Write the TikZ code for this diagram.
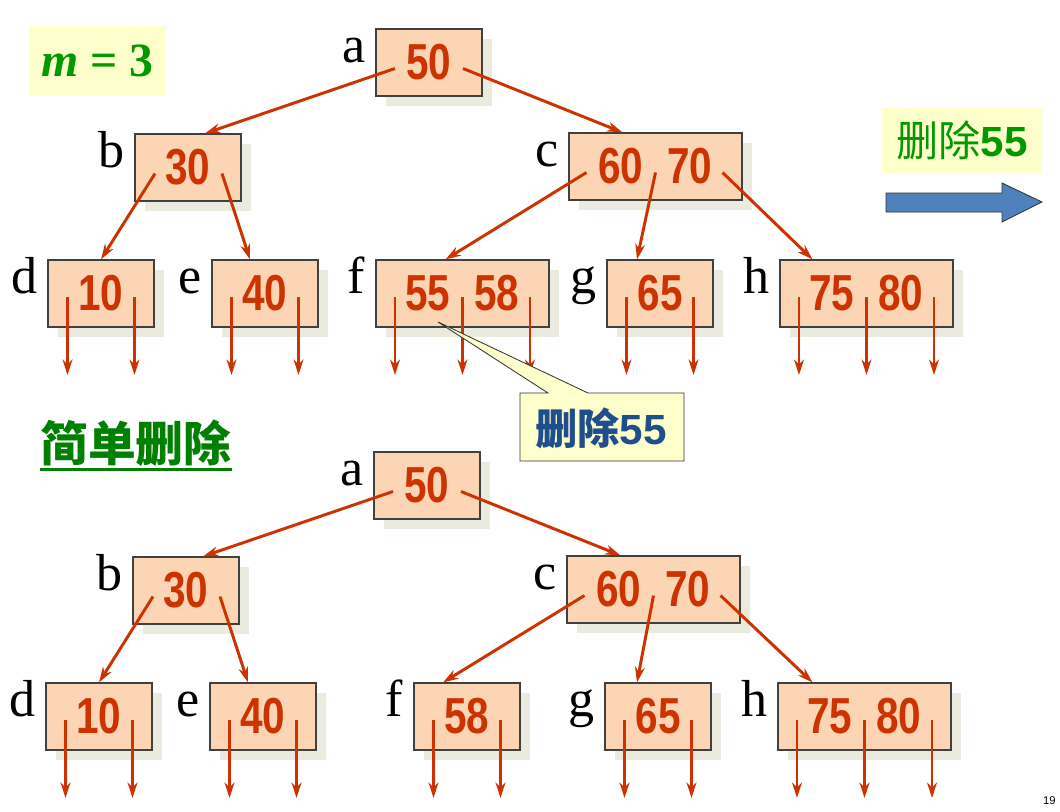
\documentclass[tikz,border=0pt]{standalone}
\usepackage{fontspec}
\setmainfont{Liberation Serif}
\newfontfamily\numfont[FakeStretch=0.8]{Liberation Sans}
\newfontfamily\sansfont{Liberation Sans}
\newfontfamily\cjkfont{Noto Sans CJK SC}
\usepackage{tikz}
\usetikzlibrary{arrows.meta, calc, shadows}

\definecolor{keyfill}{HTML}{FCD5B5}
\definecolor{keyline}{HTML}{404040}
\definecolor{keyshade}{HTML}{EAEADF}
\definecolor{ptrred}{HTML}{CC3300}
\definecolor{notefill}{HTML}{FFFFCC}
\definecolor{notegreen}{HTML}{009900}
\definecolor{simplegreen}{HTML}{008000}
\definecolor{noteblue}{HTML}{1F4E8C}
\definecolor{arrowblue}{HTML}{4F81BD}

\newcommand\keysep{\hspace{0.6cm}}

\tikzset{
  key/.style={draw=keyline, fill=keyfill, line width=0.8pt, minimum height=1.675cm, inner sep=0pt,
    text=ptrred, font=\numfont\bfseries\fontsize{36pt}{36pt}\selectfont,
    drop shadow={shadow xshift=0.25cm, shadow yshift=-0.25cm, fill=keyshade, opacity=1}},
  one/.style={key, minimum width=2.65cm},
  two/.style={key, minimum width=4.325cm},
  ptr/.style={draw=ptrred, line width=2.1pt, -{Stealth[length=11pt, width=7pt]}},
  lbl/.style={font=\fontsize{37pt}{37pt}\selectfont, inner sep=0pt, anchor=base east, xshift=-0.25cm},
  note/.style={fill=notefill, inner sep=0pt}
}

\begin{document}
\begin{tikzpicture}[x=0.025cm, y=-0.025cm]
    \useasboundingbox (0,0) rectangle (1060,811);

    % m = 3
    \node[note, minimum width=3.425cm, minimum height=1.75cm] (m) at (97.5,61)
        {\color{notegreen}\bfseries\fontsize{34pt}{34pt}\selectfont\textit{m} = 3};

    % upper tree
    \node[one] (ta) at (429,62.5) {50};
    \node[one] (tb) at (188,167.5) {30};
    \node[two] (tc) at (655.5,166.5) {60\keysep 70};
    \node[one] (td) at (101,293.5) {10};
    \node[one] (te) at (265,293.5) {40};
    \node[two] (tf) at (462.5,293.5) {55\keysep 58};
    \node[one] (tg) at (660,293.5) {65};
    \node[two] (th) at (866.5,293.5) {75\keysep 80};

    % lower tree
    \node[one] (ba) at (427,485.5) {50};
    \node[one] (bb) at (186,590.5) {30};
    \node[two] (bc) at (653.5,589.5) {60\keysep 70};
    \node[one] (bd) at (99,716.5) {10};
    \node[one] (be) at (263,716.5) {40};
    \node[one] (bf) at (467,716.5) {58};
    \node[one] (bg) at (658,716.5) {65};
    \node[two] (bh) at (864.5,716.5) {75\keysep 80};

    % node names
    \foreach \t in {a,...,h} {
        \node[lbl] (t\t-l) at (t\t.west) {\t};
        \node[lbl] (b\t-l) at (b\t.west) {\t};
    }

    % pointers to children
    \foreach \p/\px/\c/\cx in {ta/-34/tb/17, ta/34/tc/-33, tb/-33/td/0, tb/34/te/-15,
                               tc/-69/tf/-17, tc/0/tg/-23, tc/67/th/-54,
                               ba/-34/bb/17, ba/34/bc/-33, bb/-33/bd/0, bb/34/be/-15,
                               bc/-69/bf/-24, bc/0/bg/-21, bc/67/bh/-52}
        \draw[ptr] ($(\p.center)+(\px,6)$) -- ($(\c.north)+(\cx,0)$);

    % empty pointers of the leaves
    \foreach \n/\dx in {td/-33.5, td/33.5, te/-33.5, te/33.5, tf/-67.5, tf/0, tf/67.5,
                        tg/-33.5, tg/33.5, th/-67.5, th/0, th/67.5,
                        bd/-33.5, bd/33.5, be/-33.5, be/33.5, bf/-33.5, bf/33.5,
                        bg/-33.5, bg/33.5, bh/-67.5, bh/0, bh/67.5}
        \draw[ptr] ($(\n.center)+(\dx,3.5)$) -- ++(0,78);

    % callout on 55
    \coordinate (tip) at ($(tf.center)+(-24.5,28.5)$);
    \draw[fill=notefill, draw=black!80, line width=0.6pt]
        (520,393) -- (548,393) -- (tip) -- (588,393) -- (684,393) -- (684,461) -- (520,461) -- cycle;
    \node[text=noteblue, font=\bfseries\fontsize{30pt}{30pt}\selectfont] (del) at (601,428)
        {{\cjkfont 删除}{\sansfont 55}};

    % step to the right
    \node[note, minimum width=4cm, minimum height=1.625cm] (step55) at (962,140.5)
        {\color{notegreen}\fontsize{30pt}{30pt}\selectfont{\cjkfont 删除}{\sansfont\bfseries 55}};
    \draw[fill=arrowblue, draw=black!80, line width=0.6pt]
        (886,193) -- (1002,193) -- (1002,183) -- (1042,202) -- (1002,222) -- (1002,212) -- (886,212) -- cycle;

    % simple delete
    \node[anchor=west, inner sep=0pt, text=simplegreen, font=\cjkfont\bfseries\fontsize{34pt}{34pt}\selectfont]
        (simple) at (40,443) {简单删除};
    \draw[simplegreen, line width=2pt] ($(simple.south west)+(0,3)$) -- ($(simple.south east)+(0,3)$);

    % page number
    \node[anchor=east, inner sep=0pt, font=\sansfont\fontsize{8pt}{8pt}\selectfont] (pg) at (1056,801) {19};
\end{tikzpicture}
\end{document}
